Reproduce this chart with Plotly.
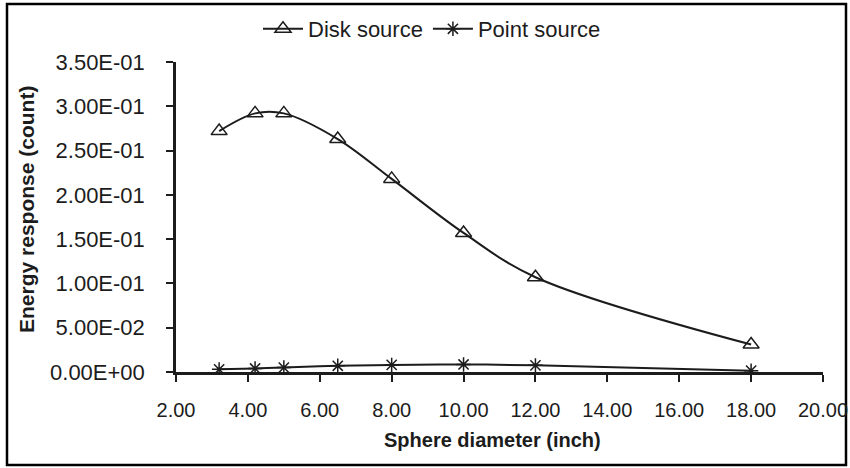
import plotly.graph_objects as go

# Data
diameters = [3.2, 4.2, 5.0, 6.5, 8.0, 10.0, 12.0, 18.0]
disk_source = [0.272, 0.292, 0.292, 0.263, 0.218, 0.157, 0.107, 0.031]
point_source = [0.003, 0.004, 0.005, 0.007, 0.008, 0.0085, 0.0075, 0.0015]

x_ticks = [2, 4, 6, 8, 10, 12, 14, 16, 18, 20]
y_ticks = [0.0, 0.05, 0.10, 0.15, 0.20, 0.25, 0.30, 0.35]
y_tick_text = ["0.00E+00", "5.00E-02", "1.00E-01", "1.50E-01",
               "2.00E-01", "2.50E-01", "3.00E-01", "3.50E-01"]

FONT = "Liberation Sans, Arial, sans-serif"
INK = "#1c1c1c"

fig = go.Figure()
fig.add_trace(go.Scatter(
    x=diameters, y=disk_source, name="Disk source",
    mode="lines+markers",
    line=dict(color=INK, width=2, shape="spline", smoothing=1),
    marker=dict(symbol="triangle-up-open", size=14, color=INK,
                line=dict(color=INK, width=1.5)),
))
fig.add_trace(go.Scatter(
    x=diameters, y=point_source, name="Point source",
    mode="lines+markers",
    line=dict(color=INK, width=2, shape="spline", smoothing=1),
    marker=dict(symbol="asterisk-open", size=12, color=INK,
                line=dict(color=INK, width=1.5)),
))

L, R, T, B = 176, 27, 62, 96
W, H = 850, 468
pw = W - L - R
ph = H - T - B

def px(xp):
    return (xp - L) / pw

def py(yp):
    return (H - B - yp) / ph

fig.update_layout(
    width=W, height=H,
    margin=dict(l=L, r=R, t=T, b=B, autoexpand=False),
    paper_bgcolor="white", plot_bgcolor="white",
    font=dict(family=FONT, color=INK, size=20),
    showlegend=True,
    legend=dict(orientation="h", x=px(432), y=py(29),
                xanchor="center", yanchor="middle",
                font=dict(size=22, family=FONT, color=INK),
                bgcolor="rgba(0,0,0,0)", itemwidth=40, tracegroupgap=0),
    xaxis=dict(range=[2, 20], tickvals=x_ticks, tickformat=".2f",
               showgrid=False, zeroline=False, showline=True,
               linecolor=INK, linewidth=2.5, ticks="outside", ticklen=7,
               tickwidth=2, tickcolor=INK, automargin=False,
               tickfont=dict(size=20, family=FONT, color=INK),
               ticklabelstandoff=11),
    yaxis=dict(range=[0, 0.35], tickvals=y_ticks, ticktext=y_tick_text,
               showgrid=False, zeroline=False, showline=True,
               linecolor=INK, linewidth=2.5, ticks="outside", ticklen=7,
               tickwidth=2, tickcolor=INK, automargin=False,
               tickfont=dict(size=22, family=FONT, color=INK),
               ticklabelstandoff=17),
    annotations=[
        dict(text="<b>Sphere diameter (inch)</b>", xref="paper", yref="paper",
             x=px(492), y=py(440), xanchor="center", yanchor="middle",
             showarrow=False, font=dict(size=20, family=FONT, color=INK)),
        dict(text="<b>Energy response (count)</b>", xref="paper", yref="paper",
             x=px(26), y=py(210), xanchor="center", yanchor="middle",
             textangle=-90, showarrow=False,
             font=dict(size=21, family=FONT, color=INK)),
    ],
    shapes=[dict(type="rect", xref="paper", yref="paper",
                 x0=px(7), x1=px(846), y0=py(465), y1=py(4),
                 line=dict(color="black", width=2.5), layer="below")],
)

fig.write_html("out.html")
